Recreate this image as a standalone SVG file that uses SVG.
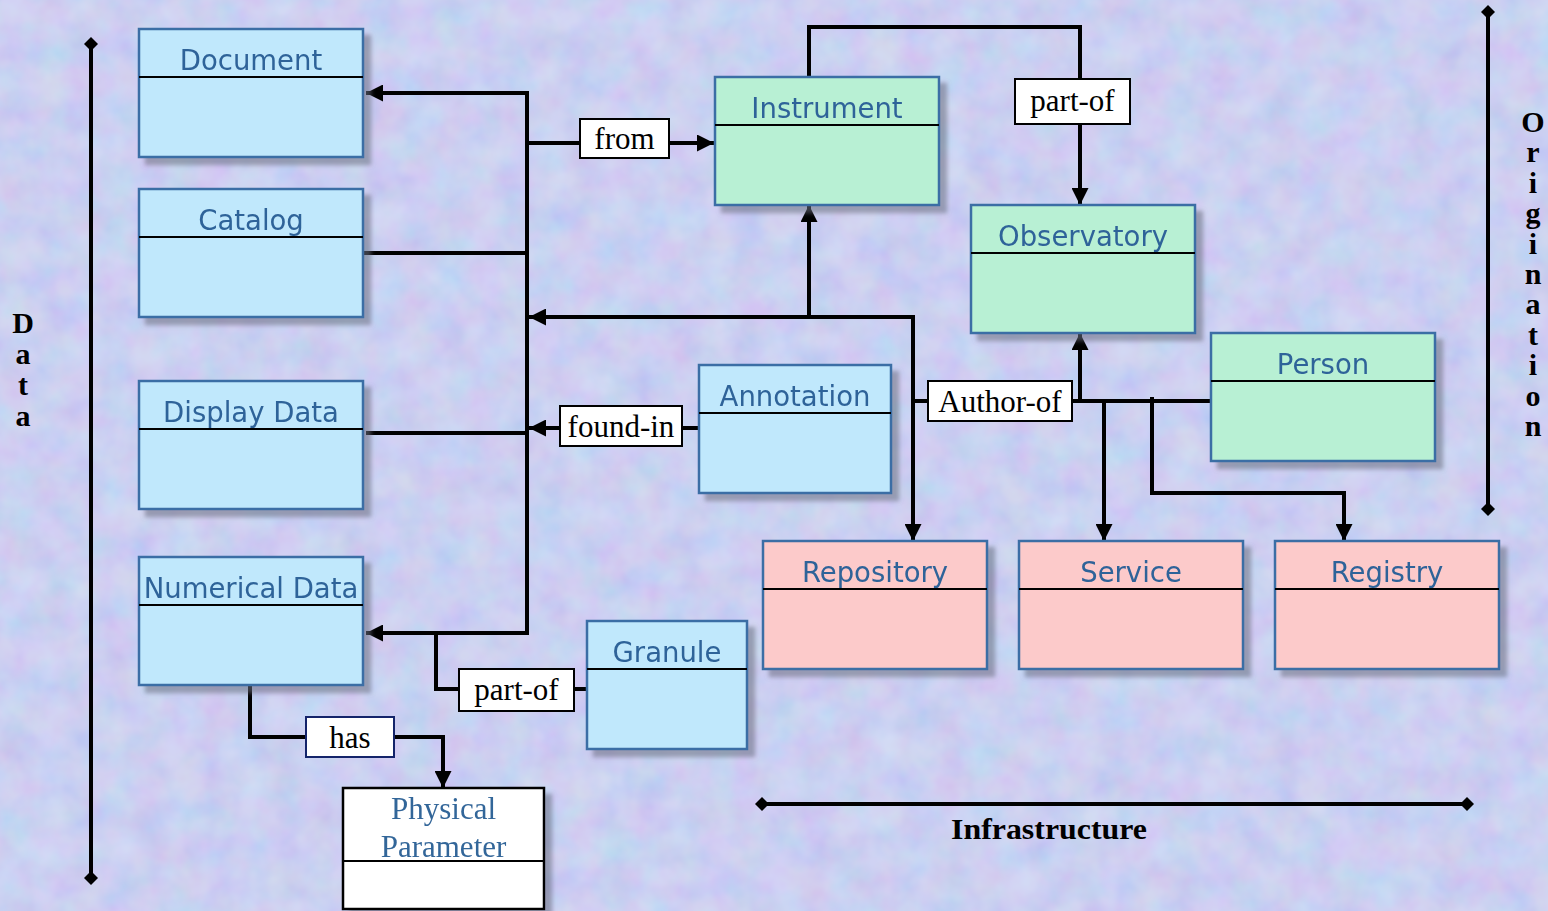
<svg xmlns="http://www.w3.org/2000/svg" width="1548" height="911" viewBox="0 0 1548 911">
<defs>
<filter id="tex" x="0" y="0" width="100%" height="100%">
<feTurbulence type="fractalNoise" baseFrequency="0.03" numOctaves="3" seed="5" result="n"/>
<feColorMatrix in="n" type="matrix" values="1.0 0 0 0 0.3  0 -0.8 0 0 1.1  0 0 0.4 0 0.7  0 0 0 0 0.3"/>
</filter>
<filter id="sh" x="-10%" y="-10%" width="130%" height="130%">
<feDropShadow dx="7" dy="7" stdDeviation="2" flood-color="#6a6e80" flood-opacity="0.55"/>
</filter>
<marker id="arr" markerUnits="userSpaceOnUse" markerWidth="17" markerHeight="17" refX="16" refY="8" orient="auto" viewBox="0 0 16 16">
<path d="M0,0 L16,8 L0,16 z" fill="#000"/>
</marker>
<marker id="dia" markerUnits="userSpaceOnUse" markerWidth="14" markerHeight="14" refX="7" refY="7" viewBox="0 0 14 14">
<path d="M0,7 L7,0 L14,7 L7,14 z" fill="#000"/>
</marker>
</defs>
<style>
.box{stroke:#3a6ea5;stroke-width:2.5}
.blue{fill:#c0e8fc}
.green{fill:#b8f0d4}
.pink{fill:#fccaca}
.div{stroke:#000;stroke-width:2}
.title{font-family:"DejaVu Sans",sans-serif;font-size:27.5px;fill:#2f6399;text-anchor:middle}
.lbl{fill:#fff;stroke:#000;stroke-width:2}
.lt{font-family:"Liberation Serif",serif;font-size:31px;fill:#000;text-anchor:middle}
.con{fill:none;stroke:#000;stroke-width:4}
.ax{fill:none;stroke:#000;stroke-width:4;marker-start:url(#dia);marker-end:url(#dia)}
.axt{font-family:"Liberation Serif",serif;font-weight:bold;font-size:30px;fill:#000;text-anchor:middle}
</style>
<rect width="1548" height="911" fill="#bfcbf0"/>
<rect width="1548" height="911" filter="url(#tex)"/>

<g id="axes">
<path class="ax" d="M91,44 V878"/>
<path class="ax" d="M1488,12 V509"/>
<path class="ax" d="M762,804 H1467"/>
<text class="axt" x="23"><tspan x="23" y="333">D</tspan><tspan x="23" y="364">a</tspan><tspan x="23" y="395">t</tspan><tspan x="23" y="426">a</tspan></text>
<text class="axt" x="1533"><tspan x="1533" y="132">O</tspan><tspan x="1533" y="162.4">r</tspan><tspan x="1533" y="192.8">i</tspan><tspan x="1533" y="223.2">g</tspan><tspan x="1533" y="253.6">i</tspan><tspan x="1533" y="284">n</tspan><tspan x="1533" y="314.4">a</tspan><tspan x="1533" y="344.8">t</tspan><tspan x="1533" y="375.2">i</tspan><tspan x="1533" y="405.6">o</tspan><tspan x="1533" y="436">n</tspan></text>
<text class="axt" x="1049" y="839" textLength="196" lengthAdjust="spacingAndGlyphs" font-size="31">Infrastructure</text>
</g>

<g id="connectors">
<path class="con" d="M527,91 V635"/>
<path class="con" d="M529,93 H366" marker-end="url(#arr)"/>
<path class="con" d="M529,633 H366" marker-end="url(#arr)"/>
<path class="con" d="M527,143 H580"/>
<path class="con" d="M669,143 H714" marker-end="url(#arr)"/>
<path class="con" d="M363,253 H527"/>
<path class="con" d="M366,433 H527"/>
<path class="con" d="M699,428 H682"/>
<path class="con" d="M560,428 H529" marker-end="url(#arr)"/>
<path class="con" d="M913,317 H529" marker-end="url(#arr)"/>
<path class="con" d="M809,317 V205" marker-end="url(#arr)"/>
<path class="con" d="M913,315 V541" marker-end="url(#arr)"/>
<path class="con" d="M913,401 H928"/>
<path class="con" d="M1072,401 H1211"/>
<path class="con" d="M1080,403 V333" marker-end="url(#arr)"/>
<path class="con" d="M1104,399 V541" marker-end="url(#arr)"/>
<path class="con" d="M1152,397 V493 H1344 V541" marker-end="url(#arr)"/>
<path class="con" d="M809,77 V27 H1080 V79"/>
<path class="con" d="M1080,124 V205" marker-end="url(#arr)"/>
<path class="con" d="M436,633 V689 H459"/>
<path class="con" d="M574,689 H587"/>
<path class="con" d="M250,685 V737 H306"/>
<path class="con" d="M394,737 H443 V788" marker-end="url(#arr)"/>
</g>

<g id="labels">
<g id="lbl-from"><rect class="lbl" x="580" y="119" width="89" height="39"/><text class="lt" x="624.5" y="149">from</text></g>
<g id="lbl-partof-top"><rect class="lbl" x="1015" y="79" width="115" height="45"/><text class="lt" x="1072.5" y="111">part-of</text></g>
<g id="lbl-foundin"><rect class="lbl" x="560" y="406" width="122" height="40"/><text class="lt" x="621" y="437">found-in</text></g>
<g id="lbl-authorof"><rect class="lbl" x="928" y="381" width="144" height="40"/><text class="lt" x="1000" y="412">Author-of</text></g>
<g id="lbl-partof-bot"><rect class="lbl" x="459" y="669" width="115" height="42"/><text class="lt" x="516.5" y="700">part-of</text></g>
<g id="lbl-has"><rect class="lbl" x="306" y="717" width="88" height="40" style="stroke:#14246a"/><text class="lt" x="350" y="748">has</text></g>
</g>

<g id="document" filter="url(#sh)"><rect class="box blue" x="139" y="29" width="224" height="128"/><line class="div" x1="139" y1="77" x2="363" y2="77"/><text class="title" x="251" y="70">Document</text></g>
<g id="catalog" filter="url(#sh)"><rect class="box blue" x="139" y="189" width="224" height="128"/><line class="div" x1="139" y1="237" x2="363" y2="237"/><text class="title" x="251" y="230">Catalog</text></g>
<g id="display-data" filter="url(#sh)"><rect class="box blue" x="139" y="381" width="224" height="128"/><line class="div" x1="139" y1="429" x2="363" y2="429"/><text class="title" x="251" y="422">Display Data</text></g>
<g id="numerical-data" filter="url(#sh)"><rect class="box blue" x="139" y="557" width="224" height="128"/><line class="div" x1="139" y1="605" x2="363" y2="605"/><text class="title" x="251" y="598">Numerical Data</text></g>
<g id="physical-parameter" filter="url(#sh)"><rect x="343" y="788" width="201" height="121" fill="#fff" stroke="#000" stroke-width="2.5"/><line class="div" x1="343" y1="861" x2="544" y2="861"/><text class="lt" x="443.5" y="819" style="fill:#336699">Physical</text><text class="lt" x="443.5" y="857" style="fill:#336699">Parameter</text></g>
<g id="instrument" filter="url(#sh)"><rect class="box green" x="715" y="77" width="224" height="128"/><line class="div" x1="715" y1="125" x2="939" y2="125"/><text class="title" x="827" y="118">Instrument</text></g>
<g id="observatory" filter="url(#sh)"><rect class="box green" x="971" y="205" width="224" height="128"/><line class="div" x1="971" y1="253" x2="1195" y2="253"/><text class="title" x="1083" y="246">Observatory</text></g>
<g id="person" filter="url(#sh)"><rect class="box green" x="1211" y="333" width="224" height="128"/><line class="div" x1="1211" y1="381" x2="1435" y2="381"/><text class="title" x="1323" y="374">Person</text></g>
<g id="annotation" filter="url(#sh)"><rect class="box blue" x="699" y="365" width="192" height="128"/><line class="div" x1="699" y1="413" x2="891" y2="413"/><text class="title" x="795" y="406">Annotation</text></g>
<g id="granule" filter="url(#sh)"><rect class="box blue" x="587" y="621" width="160" height="128"/><line class="div" x1="587" y1="669" x2="747" y2="669"/><text class="title" x="667" y="662">Granule</text></g>
<g id="repository" filter="url(#sh)"><rect class="box pink" x="763" y="541" width="224" height="128"/><line class="div" x1="763" y1="589" x2="987" y2="589"/><text class="title" x="875" y="582">Repository</text></g>
<g id="service" filter="url(#sh)"><rect class="box pink" x="1019" y="541" width="224" height="128"/><line class="div" x1="1019" y1="589" x2="1243" y2="589"/><text class="title" x="1131" y="582">Service</text></g>
<g id="registry" filter="url(#sh)"><rect class="box pink" x="1275" y="541" width="224" height="128"/><line class="div" x1="1275" y1="589" x2="1499" y2="589"/><text class="title" x="1387" y="582">Registry</text></g>
</svg>
